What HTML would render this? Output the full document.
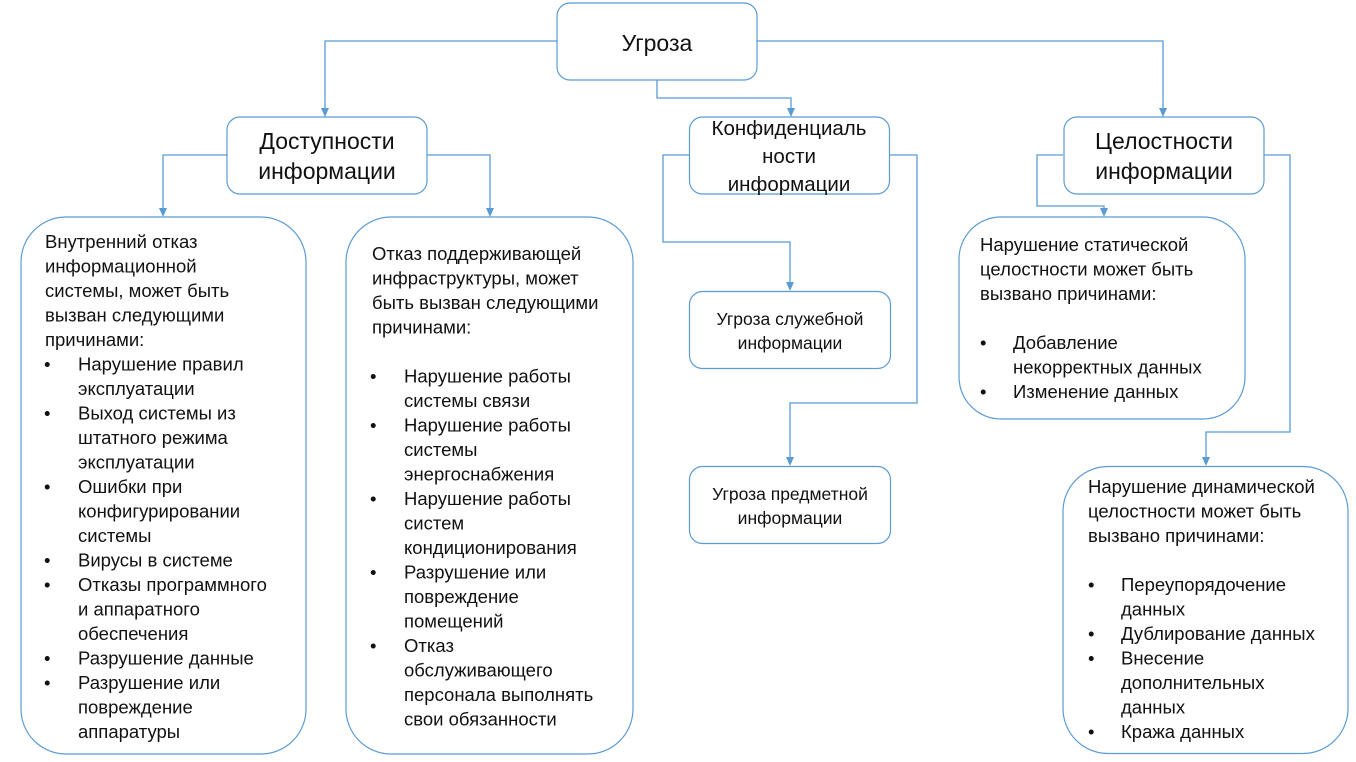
<!DOCTYPE html>
<html><head><meta charset="utf-8"><style>
html,body{margin:0;padding:0;background:#fff;}
svg{display:block;}
text{font-family:"Liberation Sans",Arial,sans-serif;fill:#111;}
.b{font-size:18.5px;}
.h{font-size:23px;}
</style></head><body>
<svg width="1356" height="762" viewBox="0 0 1356 762" xmlns="http://www.w3.org/2000/svg">
<g fill="none" stroke="#5B9BD5" stroke-width="1.3">
<path d="M557,41 H325 V109"/>
<path d="M757,41 H1163 V109"/>
<path d="M657,80 V98 H791 V109"/>
<path d="M227,155 H163 V209"/>
<path d="M427,155 H490 V209"/>
<path d="M689,155 H663 V242 H790 V283"/>
<path d="M889,155 H917 V403 H790 V458"/>
<path d="M1063,155 H1037 V206 H1104 V209"/>
<path d="M1264,155 H1290 V432 H1206 V458"/>
</g>
<g fill="#5B9BD5">
<polygon points="321,108 329,108 325,117"/>
<polygon points="1159,108 1167,108 1163,117"/>
<polygon points="787,108 795,108 791,117"/>
<polygon points="159,208 167,208 163,217"/>
<polygon points="486,208 494,208 490,217"/>
<polygon points="786,282 794,282 790,291"/>
<polygon points="786,457 794,457 790,466"/>
<polygon points="1100,208 1108,208 1104,217"/>
<polygon points="1202,457 1210,457 1206,466"/>
</g>
<g fill="#fff" stroke="#5B9BD5" stroke-width="1.2">
<rect x="557" y="3" width="200" height="77" rx="13"/>
<rect x="227" y="117" width="200" height="77" rx="13"/>
<rect x="689.5" y="117" width="200" height="77" rx="13"/>
<rect x="1064" y="117" width="200" height="77" rx="13"/>
<rect x="21" y="217" width="285" height="537" rx="45"/>
<rect x="346" y="217" width="287" height="537" rx="45"/>
<rect x="689.5" y="291.5" width="201" height="77" rx="13"/>
<rect x="689.5" y="466.5" width="201" height="77" rx="13"/>
<rect x="959" y="217" width="286" height="202" rx="42"/>
<rect x="1063" y="466.5" width="285" height="287" rx="45"/>
</g>
<g text-anchor="middle">
<text class="h" x="657" y="51">Угроза</text>
<text class="h" x="327" y="149">Доступности</text>
<text class="h" x="327" y="179">информации</text>
<text class="h" x="1164" y="149">Целостности</text>
<text class="h" x="1164" y="179">информации</text>
<text style="font-size:20.5px" x="789" y="135">Конфиденциаль</text>
<text style="font-size:20.5px" x="789" y="163">ности</text>
<text style="font-size:20.5px" x="789" y="191">информации</text>
<text style="font-size:17.5px" x="790" y="325">Угроза служебной</text>
<text style="font-size:17.5px" x="790" y="349">информации</text>
<text style="font-size:17.5px" x="790" y="500">Угроза предметной</text>
<text style="font-size:17.5px" x="790" y="524">информации</text>
</g>
<g class="b">
<text x="45" y="248">Внутренний отказ</text>
<text x="45" y="272.5">информационной</text>
<text x="45" y="297">системы, может быть</text>
<text x="45" y="321.5">вызван следующими</text>
<text x="45" y="346">причинами:</text>
<text x="44" y="370.5">•</text><text x="78" y="370.5">Нарушение правил</text>
<text x="78" y="395">эксплуатации</text>
<text x="44" y="419.5">•</text><text x="78" y="419.5">Выход системы из</text>
<text x="78" y="444">штатного режима</text>
<text x="78" y="468.5">эксплуатации</text>
<text x="44" y="493">•</text><text x="78" y="493">Ошибки при</text>
<text x="78" y="517.5">конфигурировании</text>
<text x="78" y="542">системы</text>
<text x="44" y="566.5">•</text><text x="78" y="566.5">Вирусы в системе</text>
<text x="44" y="591">•</text><text x="78" y="591">Отказы программного</text>
<text x="78" y="615.5">и аппаратного</text>
<text x="78" y="640">обеспечения</text>
<text x="44" y="664.5">•</text><text x="78" y="664.5">Разрушение данные</text>
<text x="44" y="689">•</text><text x="78" y="689">Разрушение или</text>
<text x="78" y="713.5">повреждение</text>
<text x="78" y="738">аппаратуры</text>

<text x="372" y="260">Отказ поддерживающей</text>
<text x="372" y="284.5">инфраструктуры, может</text>
<text x="372" y="309">быть вызван следующими</text>
<text x="372" y="333.5">причинами:</text>
<text x="370" y="382.5">•</text><text x="404" y="382.5">Нарушение работы</text>
<text x="404" y="407">системы связи</text>
<text x="370" y="431.5">•</text><text x="404" y="431.5">Нарушение работы</text>
<text x="404" y="456">системы</text>
<text x="404" y="480.5">энергоснабжения</text>
<text x="370" y="505">•</text><text x="404" y="505">Нарушение работы</text>
<text x="404" y="529.5">систем</text>
<text x="404" y="554">кондиционирования</text>
<text x="370" y="578.5">•</text><text x="404" y="578.5">Разрушение или</text>
<text x="404" y="603">повреждение</text>
<text x="404" y="627.5">помещений</text>
<text x="370" y="652">•</text><text x="404" y="652">Отказ</text>
<text x="404" y="676.5">обслуживающего</text>
<text x="404" y="701">персонала выполнять</text>
<text x="404" y="725.5">свои обязанности</text>

<text x="980" y="251">Нарушение статической</text>
<text x="980" y="275.5">целостности может быть</text>
<text x="980" y="300">вызвано причинами:</text>
<text x="980" y="349">•</text><text x="1013" y="349">Добавление</text>
<text x="1013" y="373.5">некорректных данных</text>
<text x="980" y="398">•</text><text x="1013" y="398">Изменение данных</text>

<text x="1088" y="493">Нарушение динамической</text>
<text x="1088" y="517.5">целостности может быть</text>
<text x="1088" y="542">вызвано причинами:</text>
<text x="1088" y="591">•</text><text x="1121" y="591">Переупорядочение</text>
<text x="1121" y="615.5">данных</text>
<text x="1088" y="640">•</text><text x="1121" y="640">Дублирование данных</text>
<text x="1088" y="664.5">•</text><text x="1121" y="664.5">Внесение</text>
<text x="1121" y="689">дополнительных</text>
<text x="1121" y="713.5">данных</text>
<text x="1088" y="738">•</text><text x="1121" y="738">Кража данных</text>
</g>
</svg>
</body></html>
